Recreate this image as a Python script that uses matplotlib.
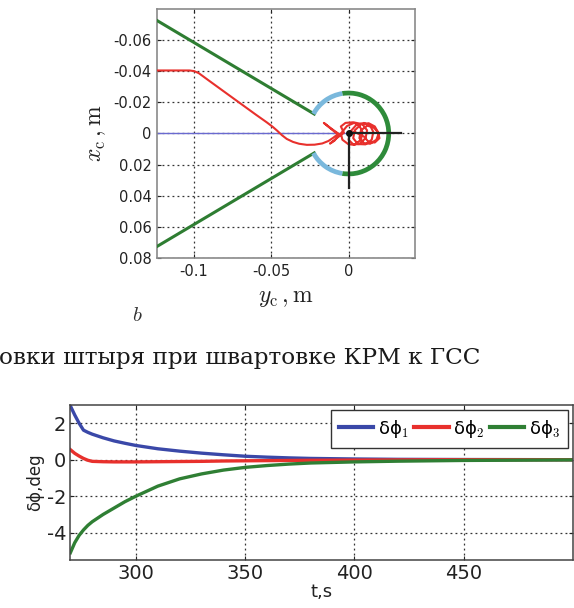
import matplotlib.pyplot as plt
from matplotlib.patches import Arc
import numpy as np

plt.rcParams['axes.unicode_minus'] = False
plt.rcParams['mathtext.fontset'] = 'cm'

# --- top chart: pin trajectory in the receiving cone (y_c, x_c in m)
cone_yc = [-0.124, -0.0222]
cone_xc_upper = [-0.0726, -0.0125]
cone_xc_lower = [0.0726, 0.0125]
circle_r = 0.026
arc_green = (-99, 99)
arc_blue_upper = (99, 151)
arc_blue_lower = (-151, -99)
axis_line_yc = [-0.124, 0.0]
axis_line_xc = [0.0, 0.0]
cross_h_yc = [0.0, 0.034]
cross_v_xc = [0.0, 0.035]

red_yc = [-0.124, -0.103, -0.100, -0.097, -0.090, -0.080, -0.070, -0.060, -0.053, -0.049,
          -0.046, -0.043, -0.040, -0.036, -0.032, -0.027, -0.022, -0.017, -0.013, -0.010,
          -0.007, -0.012, -0.016, -0.011, -0.006, -0.009, -0.012, -0.007, -0.003,
          -0.005, -0.002, 0.003, 0.007, 0.009, 0.008, 0.004, 0.000, -0.004, -0.005,
          -0.001, 0.004, 0.009, 0.012, 0.011, 0.007, 0.003, 0.000, 0.001,
          0.005, 0.010, 0.014, 0.016, 0.015, 0.011, 0.006, 0.003, 0.004,
          0.008, 0.013, 0.017, 0.0195, 0.018, 0.014, 0.010, 0.007, 0.008,
          0.012, 0.016, 0.019, 0.020, 0.017, 0.013, 0.010, 0.004, 0.0]
red_xc = [-0.0405, -0.0405, -0.0401, -0.0388, -0.0337, -0.0265, -0.0193, -0.0121, -0.0072, -0.0042,
          -0.0016, 0.0012, 0.0035, 0.0054, 0.0066, 0.0073, 0.0072, 0.0064, 0.0048, 0.0028,
          0.0005, -0.0035, -0.0068, -0.0030, 0.0005, 0.0045, 0.0065, 0.0025, -0.0005,
          -0.0045, -0.0068, -0.0072, -0.005, -0.001, 0.004, 0.0072, 0.0070, 0.004, 0.000,
          -0.0048, -0.0070, -0.006, -0.002, 0.003, 0.0068, 0.0070, 0.004, -0.001,
          -0.0055, -0.0068, -0.005, -0.001, 0.004, 0.0070, 0.0068, 0.003, -0.002,
          -0.0058, -0.0066, -0.0045, 0.000, 0.004, 0.0066, 0.0062, 0.003, -0.002,
          -0.005, -0.004, -0.001, 0.003, 0.0058, 0.0055, 0.002, -0.001, 0.0]

top_xticks = [-0.1, -0.05, 0]
top_xticklabels = ['-0.1', '-0.05', '0']
top_yticks = [-0.06, -0.04, -0.02, 0, 0.02, 0.04, 0.06, 0.08]
top_yticklabels = ['-0.06', '-0.04', '-0.02', '0', '0.02', '0.04', '0.06', '0.08']

# --- bottom chart: angle errors vs time
t = [270, 272, 274, 276, 278, 280, 285, 290, 295, 300, 310, 320, 330, 340, 350,
     360, 370, 380, 400, 420, 450, 500]
dphi1 = [2.95, 2.45, 2.0, 1.62, 1.5, 1.4, 1.2, 1.03, 0.9, 0.78, 0.6, 0.47, 0.36, 0.27,
         0.19, 0.14, 0.1, 0.07, 0.04, 0.02, 0.01, 0.0]
dphi2 = [0.55, 0.35, 0.2, 0.07, -0.03, -0.09, -0.11, -0.12, -0.12, -0.12, -0.11, -0.1,
         -0.09, -0.07, -0.06, -0.05, -0.04, -0.03, -0.02, -0.01, 0.0, 0.0]
dphi3 = [-5.1, -4.55, -4.15, -3.85, -3.6, -3.4, -3.0, -2.65, -2.3, -2.0, -1.45, -1.05,
         -0.78, -0.57, -0.42, -0.32, -0.24, -0.18, -0.12, -0.08, -0.04, -0.01]
bot_xticks = [300, 350, 400, 450]
bot_yticks = [2, 0, -2, -4]
bot_yticklabels = ['2', '0', '-2', '-4']

caption = 'овки штыря при швартовке КРМ к ГСС'

fig = plt.figure(figsize=(5.74, 6.08), dpi=100)

# top plot
ax1 = fig.add_axes([0.2735, 0.5757, 0.4495, 0.4095])
ax1.plot(axis_line_yc, axis_line_xc, color='#6a6ad0', lw=1.0, zorder=2)
ax1.plot(cone_yc, cone_xc_upper, color='#2e7d32', lw=2.2, zorder=3)
ax1.plot(cone_yc, cone_xc_lower, color='#2e7d32', lw=2.2, zorder=3)
ax1.add_patch(Arc((0, 0), 2 * circle_r, 2 * circle_r, theta1=arc_green[0], theta2=arc_green[1],
                  color='#2e8b3a', lw=3.4, zorder=3))
ax1.add_patch(Arc((0, 0), 2 * circle_r, 2 * circle_r, theta1=arc_blue_upper[0], theta2=arc_blue_upper[1],
                  color='#7ab8dc', lw=3.4, zorder=3))
ax1.add_patch(Arc((0, 0), 2 * circle_r, 2 * circle_r, theta1=arc_blue_lower[0], theta2=arc_blue_lower[1],
                  color='#7ab8dc', lw=3.4, zorder=3))
ax1.plot(red_yc, red_xc, color='#e8302c', lw=1.5, zorder=4)
ax1.plot(cross_h_yc, [0, 0], color='#222222', lw=1.6, zorder=5)
ax1.plot([0, 0], cross_v_xc, color='#222222', lw=1.6, zorder=5)
ax1.plot([0], [0], 'o', color='#111111', ms=4, zorder=6)

ax1.set_xlim(-0.124, 0.043)
ax1.set_ylim(0.08, -0.08)
ax1.set_xticks(top_xticks)
ax1.set_xticklabels(top_xticklabels)
ax1.set_yticks(top_yticks)
ax1.set_yticklabels(top_yticklabels)
ax1.grid(True, color='#333333', linestyle=(0, (1.5, 2.5)), lw=0.9)
ax1.tick_params(direction='in', length=3, labelsize=10.5, colors='#222222', top=True, right=True,
                pad=4)
for s in ax1.spines.values():
    s.set_color('#8a8a8a')
    s.set_linewidth(1.2)
ax1.set_ylabel(r'$x_{\mathrm{c}}\,,\mathrm{m}$', fontsize=17, labelpad=4, color='#222222')
ax1.set_xlabel(r'$y_{\mathrm{c}}\,,\mathrm{m}$', fontsize=17, labelpad=5, color='#222222')

fig.text(0.239, 0.482, r'$b$', fontsize=15, ha='center', va='center', color='#333333')
fig.text(-0.002, 0.412, caption, fontsize=16.7, family='DejaVu Serif', ha='left', va='center',
         color='#1a1a1a')

# bottom plot
ax2 = fig.add_axes([0.1226, 0.0789, 0.8756, 0.255])
ax2.plot(t, dphi1, color='#3a48a8', lw=2.4, label=r'δϕ$_{\mathsf{1}}$')
ax2.plot(t, dphi2, color='#e8302c', lw=2.4, label=r'δϕ$_{\mathsf{2}}$')
ax2.plot(t, dphi3, color='#2f7f34', lw=2.4, label=r'δϕ$_{\mathsf{3}}$')
ax2.set_xlim(270, 500)
ax2.set_ylim(-5.5, 3)
ax2.set_xticks(bot_xticks)
ax2.set_yticks(bot_yticks)
ax2.set_yticklabels(bot_yticklabels)
ax2.grid(True, color='#333333', linestyle=(0, (1.5, 2.5)), lw=0.9)
ax2.tick_params(direction='in', length=3, labelsize=14, colors='#222222', top=True, right=True,
                pad=3)
for s in ax2.spines.values():
    s.set_color('#444444')
    s.set_linewidth(1.1)
ax2.set_ylabel('δϕ,deg', fontsize=12, labelpad=2, color='#222222')
ax2.set_xlabel('t,s', fontsize=13, labelpad=0, color='#222222')
leg = ax2.legend(loc='upper right', ncol=3, fontsize=13, handlelength=1.9, handletextpad=0.25,
                 columnspacing=0.3, borderpad=0.45, fancybox=False, framealpha=1,
                 borderaxespad=0.25)
leg.get_frame().set_edgecolor('#333333')
leg.get_frame().set_linewidth(1.0)
for line in leg.get_lines():
    line.set_linewidth(3.0)

fig.savefig('out.png', dpi=100)
